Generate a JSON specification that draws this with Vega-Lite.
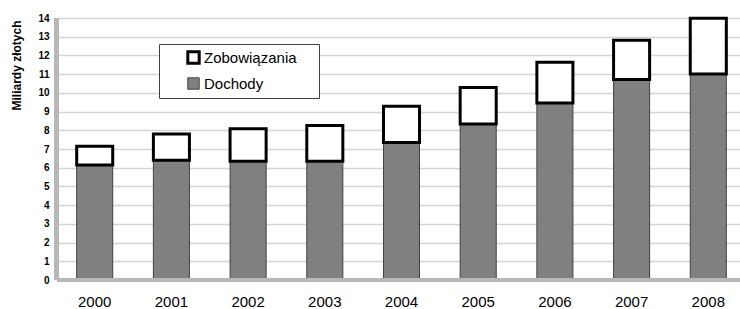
{
  "$schema": "https://vega.github.io/schema/vega-lite/v6.json",
  "autosize": {"type": "none"},
  "padding": {"left": 57, "top": 18, "right": 0, "bottom": 29},
  "width": 683,
  "height": 262,
  "background": "white",
  "config": {
    "font": "Liberation Sans",
    "view": {"stroke": null},
    "axisX": {
      "labelAngle": 0,
      "labelFontSize": 15,
      "labelColor": "#000000",
      "labelPadding": 14,
      "ticks": false,
      "domain": false,
      "grid": false
    },
    "axisY": {
      "titleFontSize": 12,
      "titleFontWeight": "bold",
      "titleColor": "#000000",
      "titleAngle": -90,
      "titleAlign": "right",
      "titleBaseline": "bottom",
      "titleX": -34,
      "titleY": 2,
      "tickCount": 14,
      "labelFontSize": 10,
      "labelFontWeight": "bold",
      "labelColor": "#000000",
      "labelPadding": 8,
      "ticks": false,
      "domain": false,
      "grid": true,
      "gridColor": "#d4d4d4",
      "gridWidth": 1.5
    }
  },
  "data": {
    "values": [
      {"rok": "2000", "series": "Dochody", "value": 6.15},
      {"rok": "2000", "series": "Zobowiązania", "value": 1.0},
      {"rok": "2001", "series": "Dochody", "value": 6.4},
      {"rok": "2001", "series": "Zobowiązania", "value": 1.4},
      {"rok": "2002", "series": "Dochody", "value": 6.35},
      {"rok": "2002", "series": "Zobowiązania", "value": 1.73},
      {"rok": "2003", "series": "Dochody", "value": 6.35},
      {"rok": "2003", "series": "Zobowiązania", "value": 1.9},
      {"rok": "2004", "series": "Dochody", "value": 7.35},
      {"rok": "2004", "series": "Zobowiązania", "value": 1.93},
      {"rok": "2005", "series": "Dochody", "value": 8.34},
      {"rok": "2005", "series": "Zobowiązania", "value": 1.95},
      {"rok": "2006", "series": "Dochody", "value": 9.46},
      {"rok": "2006", "series": "Zobowiązania", "value": 2.17},
      {"rok": "2007", "series": "Dochody", "value": 10.72},
      {"rok": "2007", "series": "Zobowiązania", "value": 2.09},
      {"rok": "2008", "series": "Dochody", "value": 11.01},
      {"rok": "2008", "series": "Zobowiązania", "value": 2.97}
    ]
  },
  "layer": [
    {
      "mark": {"type": "bar"},
      "encoding": {
        "x": {
          "field": "rok",
          "type": "nominal",
          "title": null,
          "scale": {"paddingInner": 0.53, "paddingOuter": 0.2175, "align": 0.59}
        },
        "y": {
          "field": "value",
          "type": "quantitative",
          "title": "Miliardy złotych",
          "stack": "zero",
          "scale": {"domain": [0, 14], "nice": false}
        },
        "order": {"field": "series", "sort": "ascending"},
        "color": {
          "field": "series",
          "type": "nominal",
          "scale": {"domain": ["Zobowiązania", "Dochody"], "range": ["#ffffff", "#808080"]},
          "legend": {
            "title": "\u2003",
            "titleOrient": "right",
            "titleFontSize": 15,
            "titlePadding": 16,
            "orient": "none",
            "legendX": 102,
            "legendY": 26,
            "direction": "vertical",
            "strokeColor": "#404040",
            "fillColor": "#ffffff",
            "padding": 6,
            "symbolOffset": 21,
            "symbolType": "square",
            "symbolSize": 130,
            "labelFontSize": 15,
            "labelColor": "#000000",
            "labelOffset": 3,
            "rowPadding": 5
          }
        },
        "stroke": {
          "field": "series",
          "type": "nominal",
          "scale": {"domain": ["Zobowiązania", "Dochody"], "range": ["#000000", "#404040"]},
          "legend": null
        },
        "strokeWidth": {
          "field": "series",
          "type": "nominal",
          "scale": {"domain": ["Zobowiązania", "Dochody"], "range": [3, 1]},
          "legend": null
        }
      }
    },
    {
      "mark": {"type": "rule", "color": "#b8b8b8", "strokeWidth": 4},
      "encoding": {"y": {"datum": 0}}
    },
    {
      "mark": {"type": "rule", "color": "#b8b8b8", "strokeWidth": 4},
      "encoding": {"x": {"datum": "2000", "bandPosition": -0.565, "title": null}}
    }
  ]
}
